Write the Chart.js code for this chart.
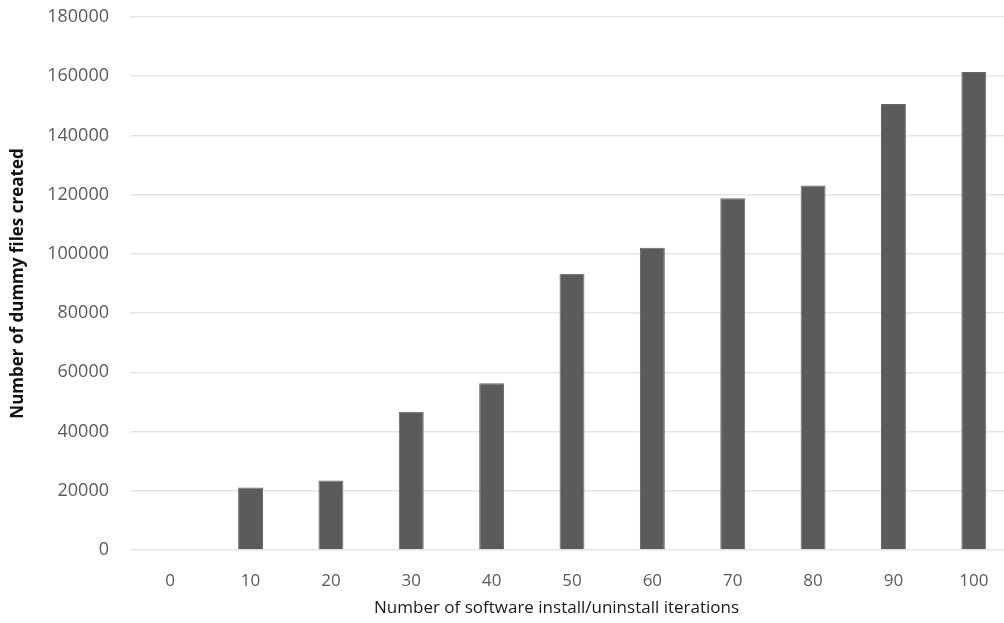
<!DOCTYPE html>
<html>
<head>
<meta charset="utf-8">
<script src="https://cdn.jsdelivr.net/npm/chart.js@4/dist/chart.umd.min.js"></script>
<style>
    html, body { margin: 0; padding: 0; background: #fff; overflow: hidden; }
    #wrap { width: 1004px; height: 623px; overflow: hidden; }
</style>
</head>
<body>
<div id="wrap"><canvas id="filesChart" width="1014" height="623"></canvas></div>
<script>
// iterations on the x axis
const iterations = ["0", "10", "20", "30", "40", "50", "60", "70", "80", "90", "100"];
// dummy files created after each batch of iterations
const dummyFiles = [0, 21100, 23500, 46700, 56300, 93300, 102100, 118800, 123100, 150600, 161400];
const yTicks = [0, 20000, 40000, 60000, 80000, 100000, 120000, 140000, 160000, 180000];

const ctx = document.getElementById("filesChart");

new Chart(ctx, {
    type: "bar",
    data: {
        labels: iterations,
        datasets: [{
            label: "Number of dummy files created",
            data: dummyFiles,
            backgroundColor: "#5b5b5b",
            borderColor: "#666",
            borderWidth: 1,
            categoryPercentage: 1,
            barPercentage: 0.31
        }]
    },
    options: {
        responsive: false,
        animation: false,
        layout: {
            padding: { top: 17, left: 0, right: 0, bottom: 0 }
        },
        plugins: {
            legend: { display: false },
            tooltip: { enabled: false }
        },
        scales: {
            y: {
                min: yTicks[0],
                max: yTicks[yTicks.length - 1],
                afterBuildTicks: axis => {
                    axis.ticks = yTicks.map(v => ({ value: v }));
                },
                // pin the plot area where the original has it
                afterFit: axis => {
                    axis.width = 130;
                    axis.paddingTop = 0;
                    axis.paddingBottom = 0;
                },
                border: { display: false },
                grid: {
                    color: "#e6e6e6",
                    lineWidth: 1.5,
                    drawTicks: false
                },
                ticks: {
                    padding: 21,
                    color: "#5a5a5a",
                    font: { family: "Open Sans", size: 18 },
                    callback: v => String(v)
                },
                title: {
                    display: true,
                    text: "Number of dummy files created",
                    color: "#111",
                    font: { family: "Open Sans", size: 17, weight: "bold" },
                    padding: { top: 8, bottom: 0 }
                }
            },
            x: {
                afterFit: axis => {
                    axis.height = 73;
                    axis.paddingLeft = 0;
                    axis.paddingRight = 0;
                },
                border: { display: false },
                grid: { display: false },
                ticks: {
                    padding: 13,
                    color: "#5a5a5a",
                    font: { family: "Open Sans", size: 17 }
                },
                title: {
                    display: true,
                    // trailing spaces nudge the centred title a bit left, like the original
                    text: "Number of software install/uninstall iterations\u00a0\u00a0\u00a0\u00a0\u00a0\u00a0\u00a0",
                    color: "#1a1a1a",
                    font: { family: "Open Sans", size: 17 },
                    padding: { top: 0, bottom: 5 }
                }
            }
        }
    }
});
</script>
</body>
</html>
